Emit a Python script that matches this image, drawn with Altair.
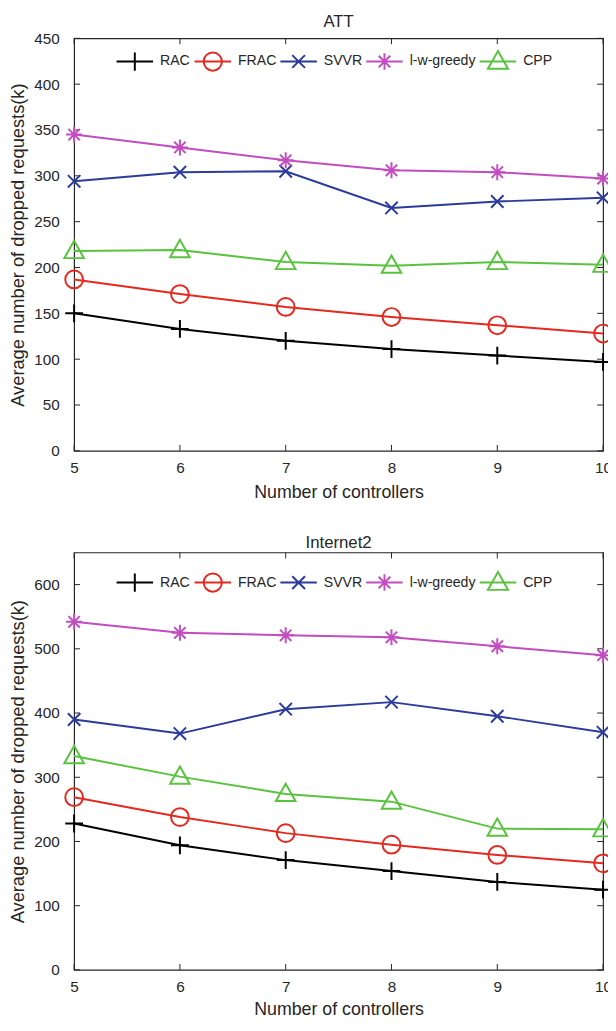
import altair as alt
import pandas as pd

controllers = [5, 6, 7, 8, 9, 10]
methods = ["RAC", "FRAC", "SVVR", "l-w-greedy", "CPP"]

att_rac = [150, 133, 120, 111, 104, 97]
att_frac = [187, 171, 157, 146, 137, 128]
att_svvr = [294, 304, 305, 265, 272, 276]
att_lwg = [345, 331, 317, 306, 304, 297]
att_cpp = [218, 219, 206, 202, 206, 203]

i2_rac = [228, 194, 171, 154, 137, 125]
i2_frac = [269, 238, 213, 195, 179, 166]
i2_svvr = [390, 368, 406, 417, 395, 370]
i2_lwg = [542, 525, 521, 518, 504, 490]
i2_cpp = [333, 301, 274, 262, 220, 219]

att_yticks = [0, 50, 100, 150, 200, 250, 300, 350, 400, 450]
i2_yticks = [0, 100, 200, 300, 400, 500, 600]

colors = ["#000000", "#e5291f", "#2b3b9b", "#c24dc0", "#58c43e"]
marker_paths = [
    "M-1,0L1,0M0,-1L0,1",
    "M-1,0A1,1 0 1,1 1,0A1,1 0 1,1 -1,0Z",
    "M-0.7,-0.7L0.7,0.7M-0.7,0.7L0.7,-0.7",
    "M-0.9,0L0.9,0M0,-0.9L0,0.9M-0.64,-0.64L0.64,0.64M-0.64,0.64L0.64,-0.64",
    "M0,-1.15L1.1,0.8L-1.1,0.8Z",
]
legend_paths = ["M-2,0L2,0" + p for p in marker_paths]

FONT = "Liberation Sans"
AXC = "#262626"
W = 536


def panel(series, title, ymax, yticks, height, legend_y, xtitle_pad):
    rows = []
    for m, vals in zip(methods, series):
        for c, v in zip(controllers, vals):
            rows.append({"controllers": c, "value": v, "method": m})
    df = pd.DataFrame(rows)

    xs = alt.Scale(domain=[5, 10], nice=False, zero=False)
    ys = alt.Scale(domain=[0, ymax], nice=False)
    xaxis = alt.Axis(
        values=controllers,
        format="d",
        title="Number of controllers",
        labelFlush=False,
        labelPadding=10,
        titlePadding=xtitle_pad,
        titleFontSize=18,
    )
    yaxis = alt.Axis(
        values=yticks,
        title="Average number of dropped requests(k)",
        labelPadding=15,
        titlePadding=6,
        titleFontSize=18.5,
    )

    leg = alt.Legend(
        title=None,
        orient="none",
        direction="horizontal",
        gridAlign="none",
        legendX=51,
        legendY=legend_y,
        symbolSize=342,
        symbolStrokeWidth=2,
        symbolFillColor="transparent",
        symbolOpacity=1,
        labelOffset=15,
        columnPadding=0,
        labelFontSize=14.3,
        labelFont=FONT,
        labelColor=AXC,
        padding=0,
    )

    xenc = alt.X("controllers:Q", scale=xs, axis=xaxis)
    yenc = alt.Y("value:Q", scale=ys, axis=yaxis)

    ydf = pd.DataFrame({"v": yticks})
    xdf = pd.DataFrame({"v": controllers})
    yt = alt.Y("v:Q", scale=ys, axis=yaxis)
    xt = alt.X("v:Q", scale=xs, axis=xaxis)
    tl = alt.Chart(ydf).mark_rule(color=AXC, strokeWidth=1).encode(y=yt, x=alt.value(0), x2=alt.value(6))
    tr = alt.Chart(ydf).mark_rule(color=AXC, strokeWidth=1).encode(y=yt, x=alt.value(W - 6), x2=alt.value(W))
    tb = alt.Chart(xdf).mark_rule(color=AXC, strokeWidth=1).encode(
        x=xt, y=alt.value(height - 6), y2=alt.value(height)
    )
    tt = alt.Chart(xdf).mark_rule(color=AXC, strokeWidth=1).encode(x=xt, y=alt.value(0), y2=alt.value(6))

    lines = [
        alt.Chart(df)
        .transform_filter(alt.datum.method == m)
        .mark_line(strokeWidth=2, color=c)
        .encode(x=xenc, y=yenc)
        for m, c in zip(methods, colors)
    ]
    pts = [
        alt.Chart(df)
        .transform_filter(alt.datum.method == m)
        .mark_point(filled=False, strokeWidth=2, size=324, opacity=1, shape=p, color=c)
        .encode(x=xenc, y=yenc)
        for m, p, c in zip(methods, marker_paths, colors)
    ]
    legend_layer = (
        alt.Chart(df)
        .mark_point(filled=False, strokeWidth=2, size=342, opacity=0)
        .encode(
            x=xenc,
            y=yenc,
            shape=alt.Shape("method:N", scale=alt.Scale(domain=methods, range=legend_paths), legend=leg),
            stroke=alt.Stroke("method:N", scale=alt.Scale(domain=methods, range=colors), legend=leg),
        )
    )
    return alt.layer(tl, tr, tb, tt, *lines, *pts, legend_layer).properties(
        width=W,
        height=height,
        title=alt.TitleParams(title, fontSize=17, fontWeight="normal", font=FONT, color=AXC, offset=0),
    )


top = panel([att_rac, att_frac, att_svvr, att_lwg, att_cpp], "ATT", 450, att_yticks, 418, 13, 8)
bottom = panel([i2_rac, i2_frac, i2_svvr, i2_lwg, i2_cpp], "Internet2", 650, i2_yticks, 423, 20, 6)

chart = (
    alt.vconcat(top, bottom, spacing=30)
    .resolve_scale(shape="independent", stroke="independent")
    .resolve_legend(shape="independent", stroke="independent")
    .properties(padding={"left": 0, "top": -2, "right": -15, "bottom": -7})
    .configure_view(stroke=AXC, strokeWidth=1.2)
    .configure_axis(
        domain=False,
        ticks=False,
        grid=False,
        labelFont=FONT,
        titleFont=FONT,
        labelFontSize=15.5,
        titleFontWeight="normal",
        labelColor=AXC,
        titleColor=AXC,
    )
)

chart.save("out.html", embed_options={"renderer": "svg", "actions": False})
